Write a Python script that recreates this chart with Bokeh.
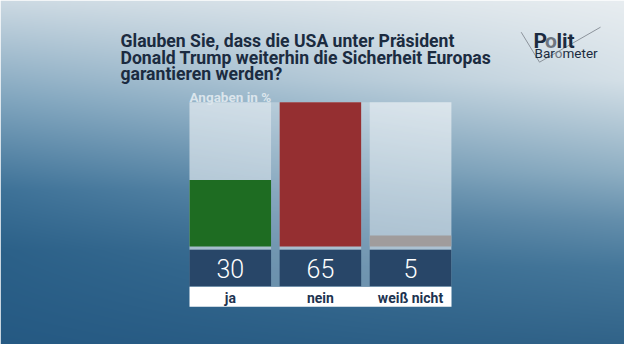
import numpy as np
from bokeh.plotting import figure
from bokeh.models import Range1d
from bokeh.core.properties import value
from bokeh.embed import file_html
from bokeh.resources import INLINE

# ---- data ----
categories = ["ja", "nein", "weiß nicht"]
values = [30, 65, 5]
value_labels = ["30", "65", "5"]
bar_colors = ["#1e6c22", "#952f31", "#a09c9c"]
title_lines = ["Glauben Sie, dass die USA unter Präsident",
               "Donald Trump weiterhin die Sicherheit Europas",
               "garantieren werden?"]
unit_note = "Angaben in %"

# ---- layout helpers (pixel -> data units) ----
X0, SX = 229.8, 90.1     # x of category 0, px per category step
Y0, SY = 246.0, 2.22     # y (from top) of value 0, px per percentage point


def fx(px):
    return (px - X0) / SX


def fy(py):
    return (Y0 - py) / SY


W, H = 624, 344
p = figure(width=W, height=H, output_backend="svg", toolbar_location=None,
           x_range=Range1d(fx(0), fx(W)), y_range=Range1d(fy(H), fy(0)),
           min_border=0)
p.axis.visible = False
p.grid.visible = False
p.outline_line_color = None
p.background_fill_color = None
p.border_fill_color = None

# ---- background gradient ----
Yp = H - np.arange(H) - 0.5
Xp = np.arange(W) + 0.5
lstops = [0, 100, 190, 250, 360]
lcols = [(205, 218, 227), (128, 165, 190), (62, 114, 152), (44, 97, 137), (36, 88, 130)]
rstops = [0, 80, 173, 220, 267, 360]
rcols = [(233, 238, 241), (214, 225, 232), (144, 176, 196), (102, 144, 173), (70, 120, 155), (45, 95, 133)]
img = np.zeros((H, W, 4), dtype=np.uint8)
wx = (Xp / 640.0)[None, :]
for c in range(3):
    lc = np.interp(Yp, lstops, [q[c] for q in lcols])[:, None]
    rc = np.interp(Yp, rstops, [q[c] for q in rcols])[:, None]
    img[:, :, c] = np.clip(lc * (1 - wx) + rc * wx, 0, 255).astype(np.uint8)
img[:, :, 3] = 255
img32 = img.view(dtype=np.uint32).reshape((H, W))
p.image_rgba(image=[img32], x=fx(0), y=fy(H), dw=W / SX, dh=H / SY, level="image")

idx = list(range(len(categories)))
vmax = max(values)

# panel behind chart
p.quad(left=fx(189), right=fx(451), top=vmax, bottom=fy(286), fill_color="white",
       fill_alpha=0.28, line_color=None)
# ghost columns
p.vbar(x=idx, top=vmax, bottom=fy(249.3), width=0.905, fill_color="white",
       fill_alpha=0.38, line_color=None)
# bars
p.vbar(x=idx, top=values, bottom=0, width=0.905, fill_color=bar_colors, line_color=None)
# value boxes
p.vbar(x=idx, top=fy(249.3), bottom=fy(285.7), width=0.905, fill_color="#284668", line_color=None)
# label row
p.quad(left=fx(189), right=fx(451), top=fy(286.3), bottom=fy(306.3), fill_color="white", line_color=None)

p.text(x=idx, y=[fy(267.5)] * 3, text=value_labels, text_align="center", text_baseline="middle",
       text_color="white", text_font_size="25px", text_font=value("'Roboto Light', Roboto"))
p.text(x=idx, y=[fy(297)] * 3, text=categories, text_align="center", text_baseline="middle",
       text_color="#1d3350", text_font_size="14px", text_font_style="bold", text_font=value("Roboto"))

p.text(x=[fx(189)], y=[fy(96.5)], text=[unit_note], text_align="left", text_baseline="alphabetic",
       text_color="#dbe5ec", text_font_size="13.5px", text_font_style="bold", text_font=value("Roboto"))

p.text(x=[fx(120)] * 3, y=[fy(40.8), fy(57.1), fy(73.4)], text=title_lines, text_align="left",
       text_baseline="alphabetic", text_color="#1b2b40", text_font_size="17.6px",
       text_font_style="bold", text_font=value("Roboto"))

# logo
p.line(x=[fx(520.7), fx(539), fx(600)], y=[fy(31.7), fy(61.7), fy(26.7)], line_color="#8d949c", line_width=1)
p.text(x=[fx(533), fx(544.5), fx(556)], y=[fy(40)] * 3, text=["P", "o", "lit"], text_align="left",
       text_baseline="alphabetic", text_color=["#1b2b40", "#6d7580", "#1b2b40"], text_font_size="21px",
       text_font_style="bold", text_font=value("Roboto"))
p.text(x=[fx(534), fx(554.3), fx(562)], y=[fy(52.3)] * 3, text=["Bar", "o", "meter"], text_align="left",
       text_baseline="alphabetic", text_color=["#1b2b40", "#6d7580", "#1b2b40"], text_font_size="13.5px",
       text_font=value("Roboto"))

open("out.html", "w").write(file_html(p, INLINE))
